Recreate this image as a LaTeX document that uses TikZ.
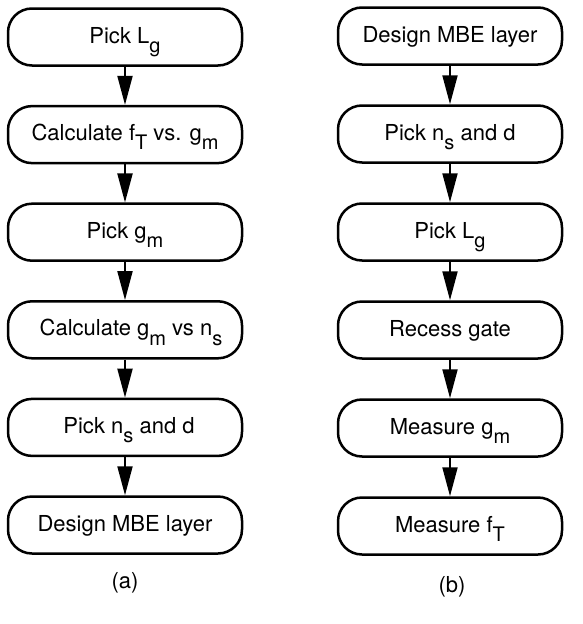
\documentclass[tikz,border=0pt]{standalone}
\usepackage{fontspec}
\setmainfont{TeX Gyre Heros}
\usetikzlibrary{arrows.meta}
\newcommand{\lowsub}[1]{\raisebox{-0.42em}{\fontsize{20}{20}\selectfont #1}}

\begin{document}
\begin{tikzpicture}[x=1pt,y=-1pt,>={Triangle[length=29pt,width=15pt]},
  stepbox/.style={draw,line width=2.5pt,rounded corners=24pt,minimum height=57pt,
    font=\fontsize{22}{24}\selectfont,inner sep=0pt,text height=16pt,text depth=4pt},
  flow/.style={->,line width=2pt}]
 \useasboundingbox (0,0) rectangle (582,624);
 % left column (a)
 \node[stepbox,minimum width=234pt] (a1) at (125,37) {Pick L\lowsub{g}};
 \node[stepbox,minimum width=234pt] (a2) at (125,134.6) {Calculate f\lowsub{T} vs. g\lowsub{m}};
 \node[stepbox,minimum width=234pt] (a3) at (125,232.2) {Pick g\lowsub{m}};
 \node[stepbox,minimum width=234pt] (a4) at (125,329.8) {\hspace{12pt}Calculate g\lowsub{m} vs n\lowsub{s}};
 \node[stepbox,minimum width=234pt] (a5) at (125,427.4) {\hspace{8pt}Pick n\lowsub{s} and d};
 \node[stepbox,minimum width=234pt] (a6) at (125,525) {Design MBE layer};
 \draw[flow] (a1) -- (a2);
 \draw[flow] (a2) -- (a3);
 \draw[flow] (a3) -- (a4);
 \draw[flow] (a4) -- (a5);
 \draw[flow] (a5) -- (a6);
 % right column (b)
 \node[stepbox,minimum width=224pt] (b1) at (450,36) {Design MBE layer};
 \node[stepbox,minimum width=224pt] (b2) at (450,134) {Pick n\lowsub{s} and d};
 \node[stepbox,minimum width=224pt] (b3) at (450,232) {Pick L\lowsub{g}};
 \node[stepbox,minimum width=224pt] (b4) at (450,330) {Recess gate};
 \node[stepbox,minimum width=224pt] (b5) at (450,428) {Measure g\lowsub{m}};
 \node[stepbox,minimum width=224pt] (b6) at (450,526) {Measure f\lowsub{T}};
 \draw[flow] (b1) -- (b2);
 \draw[flow] (b2) -- (b3);
 \draw[flow] (b3) -- (b4);
 \draw[flow] (b4) -- (b5);
 \draw[flow] (b5) -- (b6);
 \node[font=\fontsize{22}{24}\selectfont] (capa) at (125,583) {(a)};
 \node[font=\fontsize{22}{24}\selectfont] (capb) at (452,587) {(b)};
\end{tikzpicture}
\end{document}
